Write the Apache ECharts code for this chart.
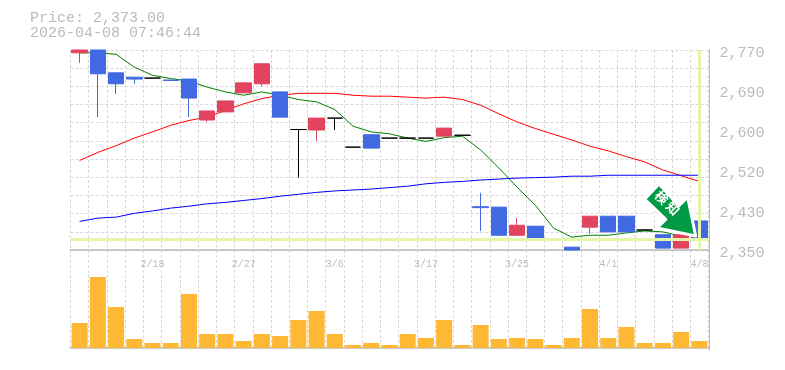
<!DOCTYPE html>
<html>
<head>
<meta charset="utf-8">
<style>html,body{margin:0;background:#fff;overflow:hidden}#chart{width:785px;height:370px}</style>
<script src="https://cdn.jsdelivr.net/npm/echarts@6/dist/echarts.min.js"></script>
</head>
<body>
<div id="chart"></div>
<script>
var priceText = 'Price: 2,373.00';
var timeText = '2026-04-08 07:46:44';
var lastPrice = 2373;

var dates = ['2/12','2/13','2/16','2/17','2/18','2/19','2/20','2/24','2/26','2/27','3/2','3/3','3/4','3/5','3/6','3/9','3/10','3/12','3/16','3/17','3/18','3/19','3/23','3/24','3/25','3/26','3/27','3/30','3/31','4/1','4/2','4/3','4/6','4/7','4/8'];
var opens  = [2764,2770,2722,2713,2711,2707,2709,2623,2640,2680,2699,2682,2603,2602,2627,2566,2592,2585,2585,2585,2589,2591,2441,2440,2381,2400,2372,2356,2398,2421,2421,2392,2382,2354,2411];
var closes = [2770,2720,2699,2709,2711,2706,2669,2642,2663,2701,2741,2629,2603,2627,2627,2566,2564,2585,2585,2585,2606,2591,2439,2381,2402,2371,2372,2350,2421,2388,2388,2392,2354,2382,2373];
var lows   = [2743,2629,2678,2699,2711,2706,2629,2619,2640,2680,2694,2629,2502,2579,2602,2566,2564,2585,2585,2585,2589,2591,2390,2381,2381,2371,2372,2350,2384,2388,2388,2392,2354,2354,2373];
var highs  = [2770,2770,2722,2713,2711,2707,2709,2642,2663,2701,2741,2682,2603,2627,2627,2566,2592,2585,2585,2585,2606,2591,2470,2440,2417,2400,2372,2356,2421,2421,2421,2392,2382,2382,2411];
var maShort = [2764,2764,2761,2734,2717,2710,2705,2692,2682,2675,2682,2675,2666,2661,2645,2610,2598,2594,2585,2578,2586,2589,2560,2522,2482,2444,2396,2377,2381,2381,2386,2390,2388,2379,null];
var maMid   = [2538,2555,2569,2585,2598,2612,2622,2629,2643,2657,2668,2675,2679,2679,2679,2675,2673,2673,2671,2669,2671,2666,2654,2636,2619,2605,2593,2581,2568,2558,2546,2535,2518,2506,2494];
var maLong  = [2410,2417,2419,2427,2432,2438,2442,2447,2450,2454,2458,2463,2467,2471,2474,2476,2478,2481,2484,2489,2492,2494,2497,2499,2501,2502,2503,2505,2505,2507,2507,2507,2507,2507,2507];
var volumes = [2500,7100,4100,900,500,500,5400,1400,1400,700,1400,1200,2800,3700,1400,300,500,300,1400,1000,2800,300,2300,900,1000,900,300,1000,3900,1000,2100,500,500,1600,700];
var yTickValues = [2350,2434,2518,2602,2686,2770];
var yTickLabels = ['2,350','2,430','2,520','2,600','2,690','2,770'];
var arrowLabel = '検\u2009知';

var mono = '"Liberation Mono", monospace';
var gray = '#bbbbbb';
var gridLine = { show: true, interval: 0, lineStyle: { color: '#d8d8d8', type: [3, 2], width: 1 } };

var candles = dates.map(function (d, i) {
  return [opens[i], closes[i], lows[i], highs[i]];
});

var myChart = echarts.init(document.getElementById('chart'));

var option = {
  animation: false,
  backgroundColor: '#ffffff',
  title: {
    text: priceText + '\n' + timeText,
    left: 30,
    top: 11,
    padding: 0,
    textStyle: { fontFamily: mono, fontSize: 15, fontWeight: 'normal', color: gray, lineHeight: 15 }
  },
  grid: [
    { left: 70.5, width: 638, top: 50, height: 200 },
    { left: 70.5, width: 638, top: 250, height: 100 }
  ],
  xAxis: [
    {
      type: 'category', gridIndex: 0, data: dates,
      axisTick: { show: false },
      axisLine: { lineStyle: { color: gray, width: 1.5 } },
      splitLine: gridLine,
      axisLabel: {
        color: gray, fontFamily: mono, fontSize: 10, margin: 9,
        interval: function (i) { return i % 5 === 4; }
      }
    },
    {
      type: 'category', gridIndex: 1, data: dates,
      axisTick: { show: false },
      axisLabel: { show: false },
      axisLine: { lineStyle: { color: gray, width: 1.5 } },
      splitLine: gridLine
    }
  ],
  yAxis: [
    {
      type: 'value', gridIndex: 0, position: 'right', min: 2350, max: 2770, offset: 1,
      axisLine: { show: true, lineStyle: { color: gray, width: 1 } },
      axisTick: { show: false },
      splitLine: { show: false },
      axisLabel: {
        customValues: yTickValues,
        color: gray, fontFamily: mono, fontSize: 15, margin: 10,
        verticalAlign: 'top', lineHeight: 6,
        formatter: function (v) { return yTickLabels[yTickValues.indexOf(v)]; }
      }
    },
    {
      // only carries the dashed horizontal rules
      type: 'value', gridIndex: 0, position: 'left', min: 0, max: 11, interval: 1,
      axisLine: { show: false }, axisTick: { show: false }, axisLabel: { show: false },
      splitLine: gridLine
    },
    {
      type: 'value', gridIndex: 1, position: 'right', min: -200, max: 9800, offset: 1,
      axisLine: { show: true, lineStyle: { color: gray, width: 1 } },
      axisTick: { show: false }, axisLabel: { show: false },
      splitLine: { show: false }
    }
  ],
  series: [
    {
      name: 'level', type: 'line', xAxisIndex: 0, yAxisIndex: 0, data: [], z: 1,
      markLine: {
        silent: true, symbol: 'none', animation: false,
        label: { show: false },
        lineStyle: { color: '#e4f6a8', type: 'solid', width: 3 },
        data: [{ yAxis: lastPrice }, { xAxis: dates[dates.length - 1] }]
      }
    },
    { name: 'ma1', type: 'line', xAxisIndex: 0, yAxisIndex: 0, data: maShort, showSymbol: false, z: 2, lineStyle: { color: '#008000', width: 1 } },
    { name: 'ma2', type: 'line', xAxisIndex: 0, yAxisIndex: 0, data: maMid, showSymbol: false, z: 2, lineStyle: { color: '#ff0000', width: 1 } },
    { name: 'ma3', type: 'line', xAxisIndex: 0, yAxisIndex: 0, data: maLong, showSymbol: false, z: 2, lineStyle: { color: '#0000ff', width: 1 } },
    {
      name: 'price', type: 'candlestick', xAxisIndex: 0, yAxisIndex: 0, data: candles, barWidth: 16, z: 3,
      itemStyle: {
        color: '#e2435f', color0: '#4169e1',
        borderColor: '#e2435f', borderColor0: '#4169e1', borderColorDoji: '#000000', borderWidth: 1
      },
      markPoint: {
        silent: true, animation: false,
        data: [{
          coord: [dates[33], 2434],
          symbol: 'path://M14.3,0 L0,15 L21,35 L12.3,43.4 L50.7,51.4 L42.7,13 L34,21.7 Z',
          symbolSize: [51, 52],
          symbolOffset: [-11, 0],
          itemStyle: { color: '#009944', borderColor: '#ffffff', borderWidth: 3, borderJoin: 'round' },
          label: {
            show: true, position: 'inside', formatter: arrowLabel, rotate: -45, offset: [-7, -3],
            color: '#ffffff', fontFamily: '"Noto Sans CJK JP"', fontWeight: 'bold', fontSize: 13
          }
        }]
      }
    },
    { name: 'volume', type: 'bar', xAxisIndex: 1, yAxisIndex: 2, data: volumes, barWidth: 16, itemStyle: { color: '#ffb833' } }
  ]
};

myChart.setOption(option);
window.addEventListener('resize', myChart.resize);
</script>
</body>
</html>
